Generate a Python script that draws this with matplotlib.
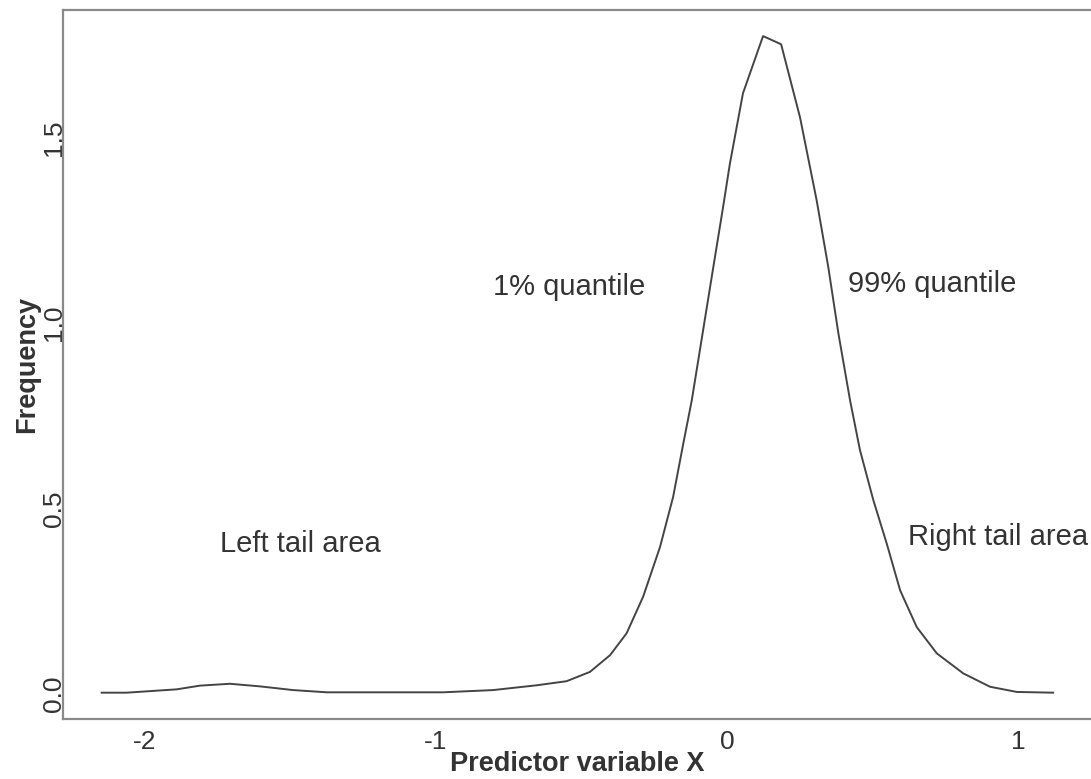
import matplotlib
matplotlib.use('Agg')
import matplotlib.pyplot as plt

# density estimate of the predictor, read at the plotted knots
x_grid = [-2.149, -2.063, -1.891, -1.811, -1.708, -1.605, -1.491, -1.375,
          -1.148, -0.976, -0.804, -0.653, -0.551, -0.471, -0.402, -0.345,
          -0.288, -0.230, -0.185, -0.150, -0.121, -0.047, -0.014, 0.010,
          0.055, 0.124, 0.186, 0.251, 0.308, 0.348, 0.383, 0.423, 0.457,
          0.503, 0.549, 0.595, 0.652, 0.721, 0.812, 0.904, 0.996, 1.121]
density = [0.004, 0.004, 0.013, 0.023, 0.028, 0.021, 0.011, 0.005,
           0.005, 0.005, 0.011, 0.024, 0.035, 0.060, 0.105, 0.164,
           0.263, 0.397, 0.532, 0.676, 0.792, 1.151, 1.310, 1.430,
           1.620, 1.774, 1.752, 1.555, 1.332, 1.152, 0.972, 0.792, 0.658,
           0.523, 0.406, 0.280, 0.181, 0.110, 0.056, 0.020, 0.006, 0.004]

x_ticks = [-2, -1, 0, 1]
y_ticks = [0.0, 0.5, 1.0, 1.5]

# annotation labels and where they sit in data units
notes = ['1% quantile', '99% quantile', 'Left tail area', 'Right tail area']
note_x = [-0.543, 0.704, -1.467, 0.930]
note_y = [1.097, 1.105, 0.404, 0.423]

plt.rcParams['font.family'] = ['Liberation Sans', 'DejaVu Sans']

fig = plt.figure(figsize=(10.91, 7.79), dpi=100)
ax = fig.add_axes([0.0577, 0.077, 0.9423, 0.910])

ax.plot(x_grid, density, color='#444444', lw=1.4)

ax.set_xlim(-2.282, 1.251)
ax.set_ylim(-0.067, 1.844)
ax.set_xticks(x_ticks)
ax.set_xticklabels(['-2', '-1', '0', '1'])
ax.set_yticks(y_ticks)
ax.set_yticklabels(['0.0', '0.5', '1.0', '1.5'], rotation=90, va='center')

ax.tick_params(axis='both', length=0, labelsize=19, colors='#333333')
ax.tick_params(axis='x', pad=8)
ax.tick_params(axis='y', pad=-2)

for side in ['left', 'top', 'bottom']:
    ax.spines[side].set_color('#8a8a8a')
    ax.spines[side].set_linewidth(1.6)
ax.spines['right'].set_visible(False)

for label, tx, ty in zip(notes, note_x, note_y):
    ax.text(tx, ty, label, ha='center', va='center', fontsize=21,
            color='#333333')

ax.set_xlabel('Predictor variable X', fontsize=19.5, fontweight='bold',
              color='#333333', labelpad=-2)
ax.set_ylabel('Frequency', fontsize=19.5, fontweight='bold',
              color='#333333', labelpad=1)

fig.savefig('out.png', dpi=100, facecolor='white')
plt.close(fig)
